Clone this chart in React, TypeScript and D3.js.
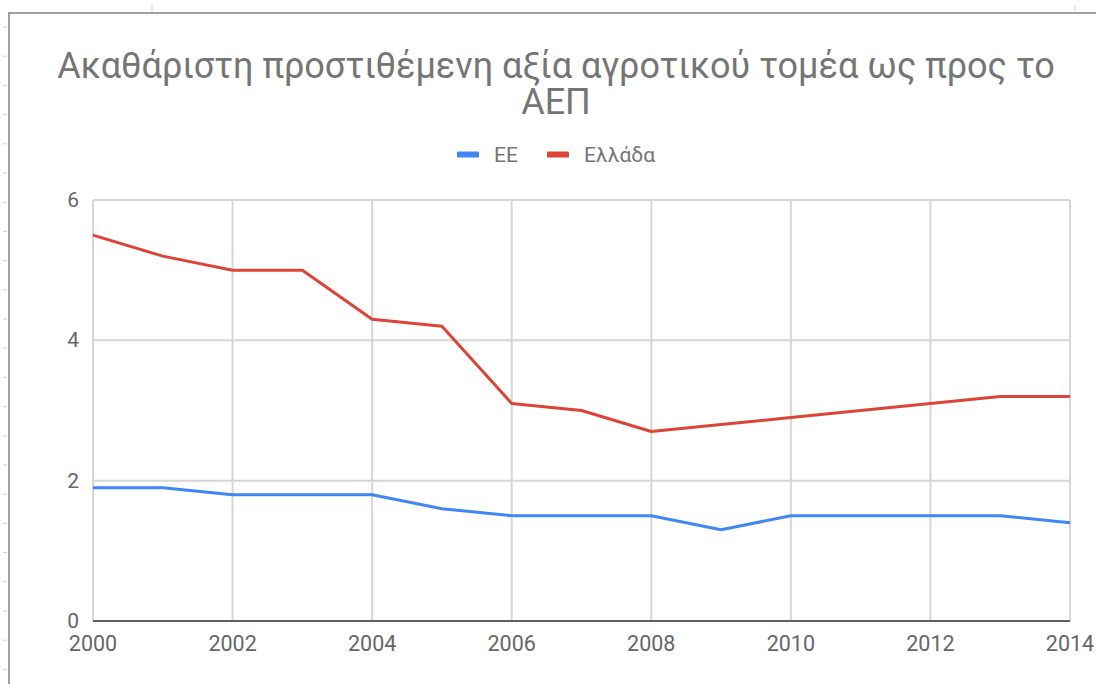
import React, { useEffect, useRef } from 'react';
import * as d3 from 'd3';

const years = [2000, 2001, 2002, 2003, 2004, 2005, 2006, 2007, 2008, 2009, 2010, 2011, 2012, 2013, 2014];
const euValues = [1.9, 1.9, 1.8, 1.8, 1.8, 1.6, 1.5, 1.5, 1.5, 1.3, 1.5, 1.5, 1.5, 1.5, 1.4];
const greeceValues = [5.5, 5.2, 5.0, 5.0, 4.3, 4.2, 3.1, 3.0, 2.7, 2.8, 2.9, 3.0, 3.1, 3.2, 3.2];
const seriesNames = ['ΕΕ', 'Ελλάδα'];
const seriesColors = ['#4285f4', '#db4437'];
const yTicks = [0, 2, 4, 6];
const xTicks = [2000, 2002, 2004, 2006, 2008, 2010, 2012, 2014];
const titleLines = ['Ακαθάριστη προστιθέμενη αξία αγροτικού τομέα ως προς το', 'ΑΕΠ'];

const W = 1096, H = 684;
const FONT = 'Roboto, "Noto Sans", Arial, sans-serif';

export default function App() {
    const ref = useRef<SVGSVGElement>(null);

    useEffect(() => {
        const svg = d3.select(ref.current);
        svg.selectAll('*').remove();

        const margin = { top: 200, right: 26, bottom: 63, left: 93 };
        const x = d3.scaleLinear().domain([2000, 2014]).range([margin.left, W - margin.right]);
        const y = d3.scaleLinear().domain([0, 6]).range([H - margin.bottom, margin.top]);

        svg.append('rect').attr('width', W).attr('height', H).attr('fill', '#fff');

        // spreadsheet frame behind the chart
        const frame = svg.append('g').attr('stroke', '#a0a0a0');
        frame.append('line').attr('x1', 9).attr('x2', W).attr('y1', 13).attr('y2', 13).attr('stroke-width', 2);
        frame.append('line').attr('x1', 9).attr('x2', 9).attr('y1', 12).attr('y2', H).attr('stroke-width', 2);
        frame.selectAll('.rowtick').data(d3.range(27, H, 29.2)).join('line')
            .attr('x1', 3).attr('x2', 7).attr('y1', d => d).attr('y2', d => d)
            .attr('stroke', '#d0d0d0').attr('stroke-width', 1);
        frame.selectAll('.coltick').data([152, 1075]).join('line')
            .attr('x1', d => d).attr('x2', d => d).attr('y1', 5).attr('y2', 11)
            .attr('stroke', '#d0d0d0').attr('stroke-width', 1);

        // title, one text per line
        svg.append('g').selectAll('text').data(titleLines).join('text')
            .attr('x', 556).attr('y', (d, i) => 78 + i * 35.5)
            .attr('text-anchor', 'middle')
            .attr('font-family', FONT).attr('font-size', 36).attr('fill', '#757575')
            .text(d => d);

        // legend
        const legendX = [457, 547];
        const legend = svg.append('g');
        seriesNames.forEach((name, i) => {
            legend.append('rect').attr('x', legendX[i]).attr('y', 151.5).attr('width', 22).attr('height', 6)
                .attr('rx', 1).attr('fill', seriesColors[i]);
            legend.append('text').attr('x', legendX[i] + 37).attr('y', 161.5)
                .attr('font-family', FONT).attr('font-size', 21).attr('fill', '#757575')
                .text(name);
        });

        // grid
        svg.append('g').selectAll('line').data(yTicks.filter(d => d > 0)).join('line')
            .attr('x1', x(2000)).attr('x2', x(2014)).attr('y1', d => y(d)).attr('y2', d => y(d))
            .attr('stroke', '#d6d6d6').attr('stroke-width', 2);
        svg.append('g').selectAll('line').data(xTicks).join('line')
            .attr('x1', d => x(d)).attr('x2', d => x(d)).attr('y1', y(6)).attr('y2', y(0))
            .attr('stroke', '#d6d6d6').attr('stroke-width', 2);

        // baseline
        svg.append('line').attr('x1', x(2000)).attr('x2', x(2014)).attr('y1', y(0)).attr('y2', y(0))
            .attr('stroke', '#5f5f5f').attr('stroke-width', 2);

        // axis labels
        svg.append('g').selectAll('text').data(yTicks).join('text')
            .attr('x', 79).attr('y', d => y(d) + 7)
            .attr('text-anchor', 'end')
            .attr('font-family', FONT).attr('font-size', 21).attr('fill', '#666')
            .text(d => d);
        svg.append('g').selectAll('text').data(xTicks).join('text')
            .attr('x', d => x(d)).attr('y', 651)
            .attr('text-anchor', 'middle')
            .attr('font-family', FONT).attr('font-size', 21.5).attr('fill', '#666')
            .text(d => d);

        // lines
        const line = d3.line<number>().x((d, i) => x(years[i])).y(d => y(d));
        [euValues, greeceValues].forEach((vals, i) => {
            svg.append('path').datum(vals).attr('d', line)
                .attr('fill', 'none').attr('stroke', seriesColors[i])
                .attr('stroke-width', 3).attr('stroke-linejoin', 'round');
        });
    }, []);

    return (
        <svg ref={ref} width={W} height={H}
            style={{ position: 'absolute', left: 0, top: 0, display: 'block' }} />
    );
}
